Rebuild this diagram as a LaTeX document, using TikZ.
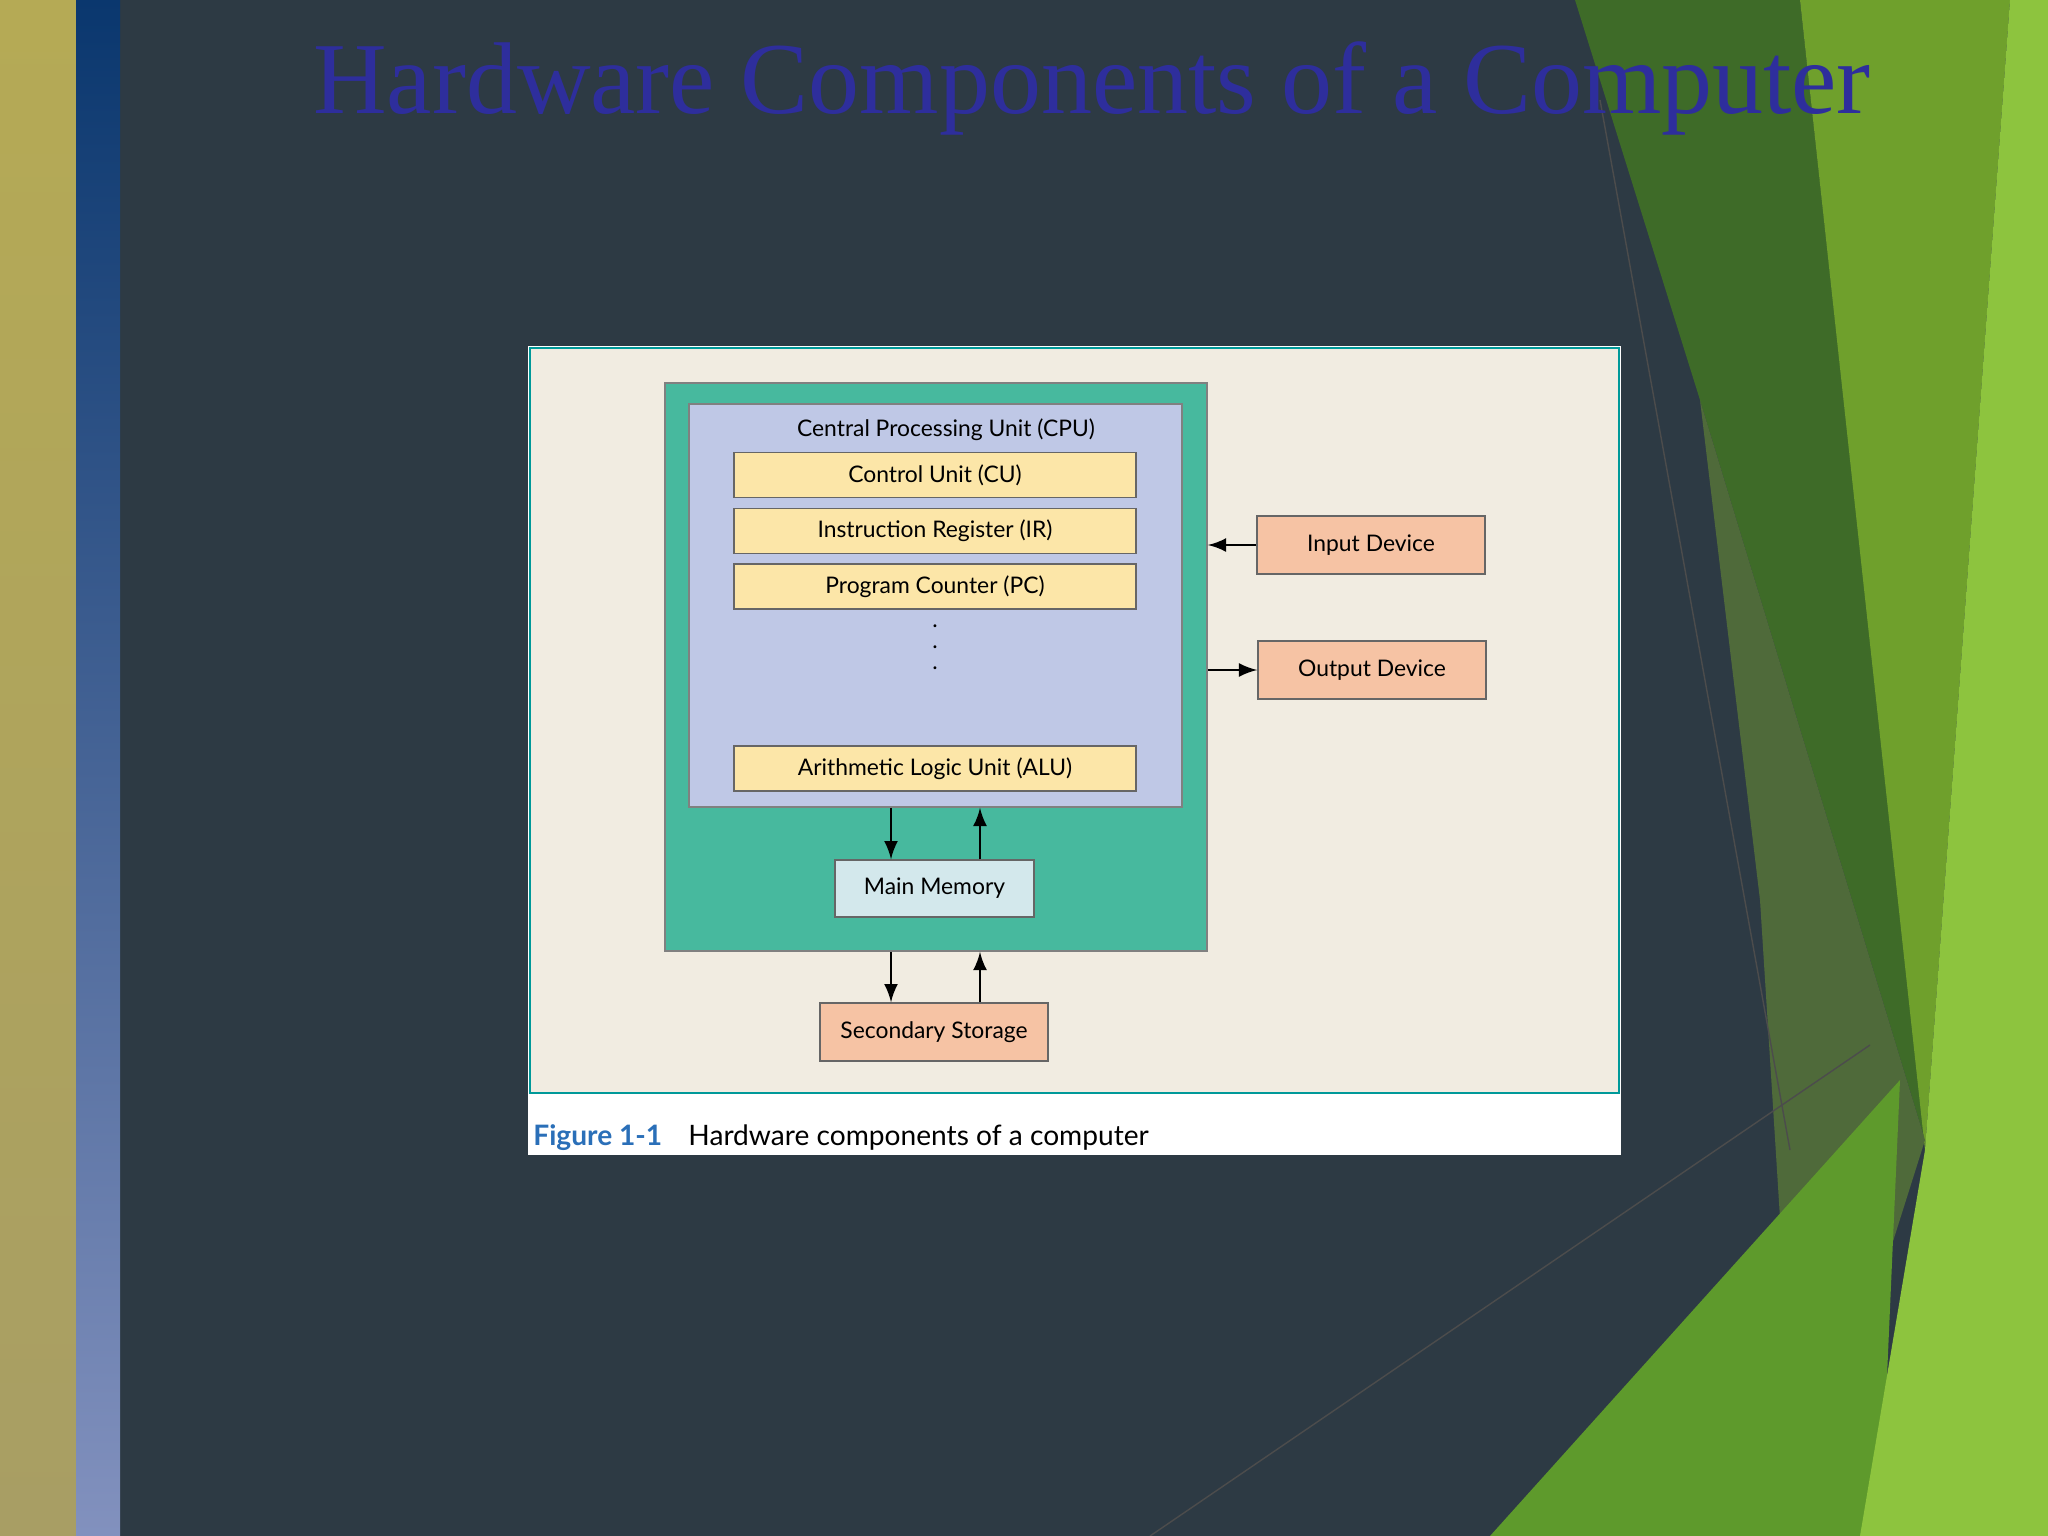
\documentclass[tikz,border=0pt]{standalone}
\usepackage{fontspec}
\setmainfont{Lato}
\newfontfamily\titlefont{Liberation Serif}
\usetikzlibrary{arrows, positioning, calc}
\definecolor{slateBg}{HTML}{2D3A44}
\definecolor{titleBlue}{HTML}{2E2E9C}
\definecolor{tealBox}{HTML}{47B99E}
\definecolor{cpuBlue}{HTML}{BFC8E6}
\definecolor{regYellow}{HTML}{FCE6A8}
\definecolor{devSalmon}{HTML}{F6C3A4}
\definecolor{memBlue}{HTML}{D3E8EC}
\definecolor{paperBeige}{HTML}{F1ECE1}
\definecolor{figBlue}{HTML}{2A6FB8}
\definecolor{leafDark}{HTML}{3E6B28}
\definecolor{leafMid}{HTML}{6FA02C}
\definecolor{leafOlive}{HTML}{4F6A3A}
\definecolor{leafLight}{HTML}{8DC43E}
\definecolor{leafBottom}{HTML}{5E9A2C}
\tikzstyle{register} = [rectangle, minimum width=4.02cm, minimum height=0.37cm, text centered, draw=black!60, fill=regYellow, font=\fontsize{6.5}{7}\selectfont]
\tikzstyle{device} = [rectangle, minimum width=2.28cm, minimum height=0.58cm, text centered, draw=black!60, fill=devSalmon, font=\fontsize{6.5}{7}\selectfont]
\begin{document}
\begin{tikzpicture}[x=0.01cm, y=-0.01cm]
			\useasboundingbox (0,0) rectangle (2048,1536);
			% slide background
			\fill[slateBg] (0,0) rectangle (2048,1536);
			\shade[top color={rgb,255:red,181;green,170;blue,85}, bottom color={rgb,255:red,168;green,158;blue,100}] (0,0) rectangle (76,1536);
			\shade[top color={rgb,255:red,10;green,55;blue,110}, bottom color={rgb,255:red,130;green,145;blue,190}] (76,0) rectangle (120,1536);
			% green shapes on the right
			\fill[leafDark] (1575,0) -- (1800,0) -- (1925,1140) -- (1700,400) -- cycle;
			\fill[leafMid] (1800,0) -- (2010,0) -- (1925,1150) -- cycle;
			\fill[leafOlive] (1700,400) -- (1925,1140) -- (1800,1536) -- (1760,900) -- cycle;
			\fill[leafBottom] (1490,1536) -- (1900,1080) -- (1880,1536) -- cycle;
			\fill[leafLight] (2010,0) -- (2048,0) -- (2048,1536) -- (1860,1536) -- (1925,1150) -- cycle;
			\draw[black!70, thin] (1600,100) -- (1790,1150);
			\draw[black!70, thin] (1150,1536) -- (1870,1045);
			% title
			\node (title) at (1092,88) [text=titleBlue, font=\titlefont\fontsize{29}{30}\selectfont]{Hardware Components of a Computer};
			% figure
			\fill[white] (528,346) rectangle (1621,1155);
			\draw[fill=paperBeige, draw=teal!80!cyan, thick] (530,348) rectangle (1619,1093);
			\node (figno) at (521,1138) [anchor=west, text=figBlue, font=\bfseries\fontsize{8}{9}\selectfont]{Figure 1-1};
			\node (figcap) at (676,1138) [anchor=west, font=\fontsize{8}{9}\selectfont]{Hardware components of a computer};
			\node (teal) at (936,667) [rectangle, minimum width=5.42cm, minimum height=5.68cm, draw=black!50, fill=tealBox]{};
			\node (cpu) at (935.5,605.5) [rectangle, minimum width=4.93cm, minimum height=4.03cm, draw=black!50, fill=cpuBlue]{};
			\node (cpulabel) at (946,430) [font=\fontsize{6.5}{7}\selectfont]{Central Processing Unit (CPU)};
			\node (cu) at (935,475) [register]{Control Unit (CU)};
			\node (ir) at (935,531) [register]{Instruction Register (IR)};
			\node (pc) at (935,586.5) [register]{Program Counter (PC)};
			\node (dots) at (935,647) [font=\fontsize{6.5}{7}\selectfont, align=center, inner sep=0pt]{.\\[-1pt].\\[-1pt].};
			\node (alu) at (935,768.5) [register]{Arithmetic Logic Unit (ALU)};
			\node (mem) at (934.5,888.5) [rectangle, minimum width=1.99cm, minimum height=0.57cm, draw=black!60, fill=memBlue, font=\fontsize{6.5}{7}\selectfont]{Main Memory};
			\node (store) at (934,1032) [device]{Secondary Storage};
			\node (input) at (1371,545) [device]{Input Device};
			\node (output) at (1372,670) [device]{Output Device};
			
			\draw[thick,->,>=latex] (cpu.south -| 891,0) -- (mem.north -| 891,0);
			\draw[thick,->,>=latex] (mem.north -| 980,0) -- (cpu.south -| 980,0);
			\draw[thick,->,>=latex] (teal.south -| 891,0) -- (store.north -| 891,0);
			\draw[thick,->,>=latex] (store.north -| 980,0) -- (teal.south -| 980,0);
			\draw[thick,->,>=latex] (input.west) -- (input.west -| teal.east);
			\draw[thick,->,>=latex] (output.west -| teal.east) -- (output.west);
\end{tikzpicture}
\end{document}
